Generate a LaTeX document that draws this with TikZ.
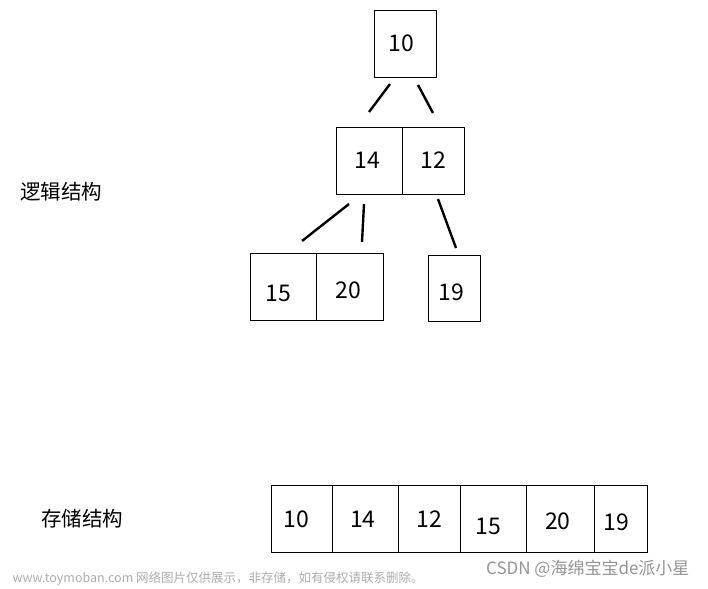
\documentclass[tikz,border=0pt]{standalone}
\usepackage{fontspec}
\newfontfamily\cjk{Noto Sans CJK SC}
\usetikzlibrary{positioning}

\newcommand{\nudge}[2]{\raisebox{#1}[\height][\depth]{#2}}

\tikzset{
  cell/.style={draw, line width=0.9pt, minimum height=67pt, inner sep=0pt,
    font=\cjk\fontsize{23}{26}\selectfont},
  link/.style={line width=2.4pt},
  title/.style={font=\cjk\fontsize{20.5}{24}\selectfont},
  mark1/.style={font=\cjk\fontsize{17}{20}\selectfont, text=black!42},
  mark2/.style={font=\cjk\fontsize{12.5}{15}\selectfont, text=black!32}
}

\begin{document}
\begin{tikzpicture}[x=1pt, y=-1pt]
    \useasboundingbox (0, 0) rectangle (708, 588);

    % logical structure
    \node[title] (lblLogic) at (61, 192) {逻辑结构};
    \node[cell, minimum width=62pt] (n10) at (405, 43.5) {\hspace{-8pt}10};
    \node[cell, minimum width=65.6pt] (n14) at (369.5, 160.5) {\hspace{-5pt}14};
    \node[cell, minimum width=62pt, right=-0.9pt of n14] (n12) {12};
    \node[cell, minimum width=66pt] (n15) at (283.7, 287) {\hspace{-10pt}\nudge{-6pt}{15}};
    \node[cell, minimum width=66.6pt, right=-0.9pt of n15] (n20) {\hspace{-4pt}\nudge{-3pt}{20}};
    \node[cell, minimum width=52.4pt, minimum height=66pt] (n19) at (454.5, 288.7) {\hspace{-7pt}\nudge{-4pt}{19}};

    \coordinate (a1) at (390, 84);   \coordinate (a2) at (369, 112);
    \coordinate (b1) at (418, 85);   \coordinate (b2) at (433, 113);
    \coordinate (c1) at (349, 204);  \coordinate (c2) at (302, 241);
    \coordinate (d1) at (364, 204);  \coordinate (d2) at (362, 242);
    \coordinate (e1) at (438, 199);  \coordinate (e2) at (456, 248);
    \draw[link] (a1) -- (a2);
    \draw[link] (b1) -- (b2);
    \draw[link] (c1) -- (c2);
    \draw[link] (d1) -- (d2);
    \draw[link] (e1) -- (e2);

    % storage structure
    \node[title] (lblStore) at (82, 519) {存储结构};
    \node[cell, minimum width=60.6pt] (s10) at (302, 519.3) {\hspace{-12pt}10};
    \node[cell, minimum width=66pt, right=-0.9pt of s10] (s14) {\hspace{-5pt}14};
    \node[cell, minimum width=61.7pt, right=-0.9pt of s14] (s12) {12};
    \node[cell, minimum width=66.7pt, right=-0.9pt of s12] (s15) {\hspace{-10pt}\nudge{-7pt}{15}};
    \node[cell, minimum width=67.3pt, right=-0.9pt of s15] (s20) {\hspace{-5pt}\nudge{-2pt}{20}};
    \node[cell, minimum width=53.3pt, right=-0.9pt of s20] (s19) {\hspace{-9pt}\nudge{-3pt}{19}};

    % watermarks
    \node[mark1, anchor=east] (wm1) at (693, 569) {CSDN @海绵宝宝de派小星};
    \node[mark2, anchor=west] (wm2) at (9, 579) {www.toymoban.com 网络图片仅供展示，非存储，如有侵权请联系删除。};
\end{tikzpicture}
\end{document}
